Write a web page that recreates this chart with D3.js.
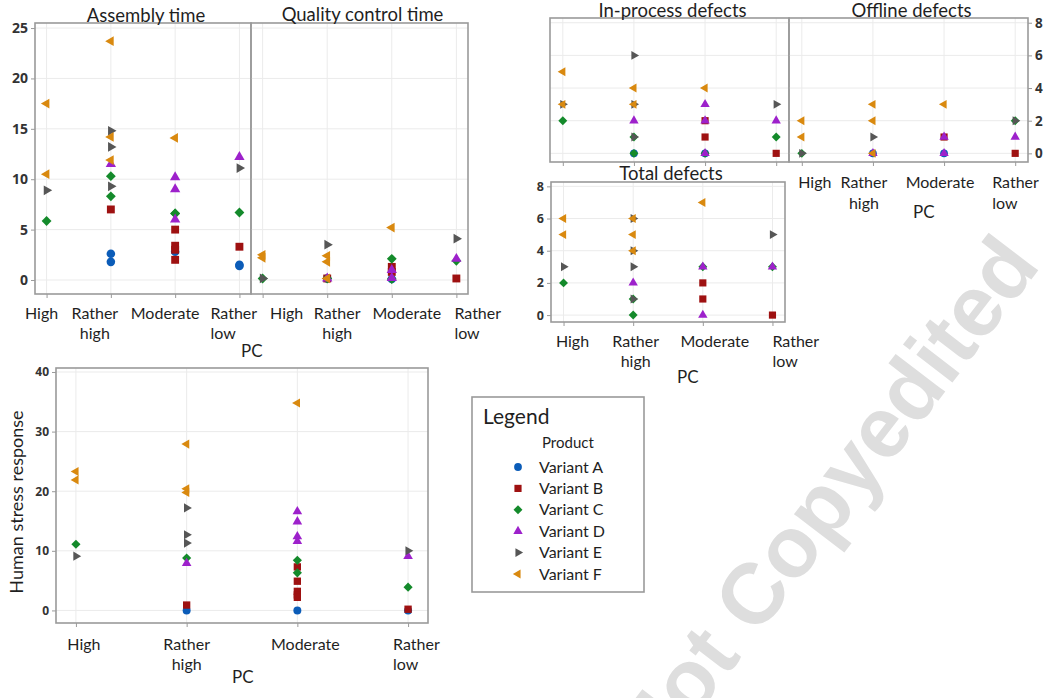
<!DOCTYPE html>
<html>
<head>
<meta charset="utf-8">
<script src="https://cdn.jsdelivr.net/npm/d3@7"></script>
<style>
  html, body { margin: 0; padding: 0; background: #ffffff; }
  svg { display: block; }
</style>
</head>
<body>
<svg id="chart" width="1045" height="698"></svg>
<script>
// ---- categories and series ----
const pcLevels = ["High", "Rather high", "Moderate", "Rather low"];
const variantKeys = ["A", "B", "C", "D", "E", "F"];
const variantLabels = ["Variant A", "Variant B", "Variant C", "Variant D", "Variant E", "Variant F"];
const variantColors = ["#0b5cb8", "#9e1111", "#148a2b", "#9d21cb", "#565656", "#d9890f"];

// tick values
const timeTicks = [0, 5, 10, 15, 20, 25];
const defectTicks = [0, 2, 4, 6, 8];
const stressTicks = [0, 10, 20, 30, 40];

// observations: [PC level, variant, value]
const assemblyTime = [
  ["High", "F", 17.5], ["High", "F", 10.5], ["High", "E", 8.9], ["High", "C", 5.85],
  ["Rather high", "F", 23.7], ["Rather high", "F", 14.2], ["Rather high", "F", 11.9],
  ["Rather high", "E", 14.8], ["Rather high", "E", 13.2], ["Rather high", "E", 9.3],
  ["Rather high", "D", 11.5], ["Rather high", "C", 10.3], ["Rather high", "C", 8.3],
  ["Rather high", "B", 7.0], ["Rather high", "A", 2.6], ["Rather high", "A", 1.8],
  ["Moderate", "F", 14.1], ["Moderate", "D", 10.2], ["Moderate", "D", 9.0], ["Moderate", "D", 6.0],
  ["Moderate", "C", 6.6], ["Moderate", "C", 6.6], ["Moderate", "B", 5.0], ["Moderate", "B", 3.4],
  ["Moderate", "B", 3.0], ["Moderate", "B", 2.0], ["Moderate", "A", 2.8],
  ["Rather low", "D", 12.2], ["Rather low", "E", 11.1], ["Rather low", "C", 6.7],
  ["Rather low", "B", 3.3], ["Rather low", "A", 1.5], ["Rather low", "A", 1.4]
];

const qualityControlTime = [
  ["High", "F", 2.5], ["High", "F", 2.2], ["High", "C", 0.15], ["High", "E", 0.15],
  ["Rather high", "E", 3.5], ["Rather high", "F", 2.4], ["Rather high", "F", 1.8],
  ["Rather high", "A", 0.15], ["Rather high", "B", 0.15], ["Rather high", "C", 0.15],
  ["Rather high", "D", 0.15], ["Rather high", "F", 0.15],
  ["Moderate", "F", 5.2], ["Moderate", "C", 2.1], ["Moderate", "B", 1.3], ["Moderate", "B", 0.8],
  ["Moderate", "D", 1.0], ["Moderate", "A", 0.1], ["Moderate", "C", 0.1], ["Moderate", "D", 0.2],
  ["Rather low", "E", 4.1], ["Rather low", "D", 2.1], ["Rather low", "C", 1.9], ["Rather low", "B", 0.15]
];

const inProcessDefects = [
  ["High", "F", 5], ["High", "F", 3], ["High", "E", 3], ["High", "C", 2],
  ["Rather high", "E", 6], ["Rather high", "F", 4], ["Rather high", "F", 3], ["Rather high", "E", 3],
  ["Rather high", "D", 2], ["Rather high", "C", 1], ["Rather high", "E", 1],
  ["Rather high", "A", 0], ["Rather high", "C", 0],
  ["Moderate", "F", 4], ["Moderate", "D", 3], ["Moderate", "B", 2], ["Moderate", "D", 2],
  ["Moderate", "B", 1], ["Moderate", "A", 0], ["Moderate", "C", 0], ["Moderate", "D", 0],
  ["Rather low", "E", 3], ["Rather low", "D", 2], ["Rather low", "C", 1], ["Rather low", "B", 0]
];

const offlineDefects = [
  ["High", "F", 2], ["High", "F", 1], ["High", "C", 0], ["High", "E", 0],
  ["Rather high", "F", 3], ["Rather high", "F", 2], ["Rather high", "E", 1],
  ["Rather high", "A", 0], ["Rather high", "D", 0], ["Rather high", "F", 0],
  ["Moderate", "F", 3], ["Moderate", "B", 1], ["Moderate", "D", 1], ["Moderate", "A", 0], ["Moderate", "D", 0],
  ["Rather low", "C", 2], ["Rather low", "E", 2], ["Rather low", "D", 1], ["Rather low", "B", 0]
];

const totalDefects = [
  ["High", "F", 6], ["High", "F", 5], ["High", "E", 3], ["High", "C", 2],
  ["Rather high", "E", 6], ["Rather high", "F", 6], ["Rather high", "F", 5], ["Rather high", "E", 4],
  ["Rather high", "F", 4], ["Rather high", "E", 3], ["Rather high", "D", 2], ["Rather high", "C", 1],
  ["Rather high", "E", 1], ["Rather high", "C", 0],
  ["Moderate", "F", 7], ["Moderate", "C", 3], ["Moderate", "D", 3], ["Moderate", "B", 2],
  ["Moderate", "B", 1], ["Moderate", "D", 0],
  ["Rather low", "E", 5], ["Rather low", "C", 3], ["Rather low", "D", 3], ["Rather low", "B", 0]
];

const stressResponse = [
  ["High", "F", 23.3], ["High", "F", 21.9], ["High", "C", 11.1], ["High", "E", 9.1],
  ["Rather high", "F", 27.9], ["Rather high", "F", 20.4], ["Rather high", "F", 19.8],
  ["Rather high", "E", 17.2], ["Rather high", "E", 12.7], ["Rather high", "E", 11.3],
  ["Rather high", "C", 8.8], ["Rather high", "D", 7.9], ["Rather high", "B", 0.9], ["Rather high", "A", 0],
  ["Moderate", "F", 34.8], ["Moderate", "D", 16.6], ["Moderate", "D", 14.9], ["Moderate", "D", 12.4],
  ["Moderate", "D", 11.6], ["Moderate", "C", 8.4], ["Moderate", "C", 6.3], ["Moderate", "B", 7.3],
  ["Moderate", "B", 4.9], ["Moderate", "B", 3.2], ["Moderate", "B", 2.6], ["Moderate", "B", 2.2],
  ["Moderate", "A", 0],
  ["Rather low", "E", 10.0], ["Rather low", "D", 9.1], ["Rather low", "C", 3.9],
  ["Rather low", "A", 0], ["Rather low", "B", 0.2]
];

// ---- drawing ----
const svg = d3.select("#chart");
const labelFont = "Lato, 'Open Sans', sans-serif";
const tickFont = "'Open Sans', 'DejaVu Sans', sans-serif";
const frameColor = "#9a9a9a";
const gridColor = "#ebebeb";

// marker shapes per variant: circle, square, diamond, triangle up / right / left
const markerShape = {
  A: { type: d3.symbolCircle, area: 50, rot: 0 },
  B: { type: d3.symbolSquare, area: 54, rot: 0 },
  C: { type: d3.symbolSquare, area: 42, rot: 45 },
  D: { type: d3.symbolTriangle, area: 40, rot: 0 },
  E: { type: d3.symbolTriangle, area: 36, rot: 90 },
  F: { type: d3.symbolTriangle, area: 36, rot: -90 }
};
const colorOf = d3.scaleOrdinal().domain(variantKeys).range(variantColors);

function marker(key, scale) {
  const m = markerShape[key];
  return d3.symbol().type(m.type).size(m.area * scale)();
}

// watermark
svg.append("text")
  .attr("transform", "translate(655,770) rotate(-52.5)")
  .attr("font-family", "'Liberation Sans', Arial, sans-serif")
  .attr("font-weight", "bold")
  .attr("font-size", 86)
  .attr("fill", "#dedede")
  .text("Not Copyedited");

function drawPanel(o) {
  const g = svg.append("g");
  const x = d3.scalePoint().domain(pcLevels).range([o.left, o.right]).padding(0.18);
  const y = d3.scaleLinear().domain(o.yDomain).range([o.bottom, o.top]);

  // grid
  g.append("g").selectAll("line").data(o.ticks).join("line")
    .attr("x1", o.left).attr("x2", o.right)
    .attr("y1", d => y(d)).attr("y2", d => y(d))
    .attr("stroke", gridColor).attr("stroke-width", 1);
  g.append("g").selectAll("line").data(pcLevels).join("line")
    .attr("x1", d => x(d)).attr("x2", d => x(d))
    .attr("y1", o.top).attr("y2", o.bottom)
    .attr("stroke", gridColor).attr("stroke-width", 1);

  // points, drawn in variant order
  const rows = o.data.slice().sort((a, b) => variantKeys.indexOf(a[1]) - variantKeys.indexOf(b[1]));
  g.append("g").selectAll("path").data(rows).join("path")
    .attr("d", d => marker(d[1], o.markerScale))
    .attr("transform", d => `translate(${x(d[0])},${y(d[2])}) rotate(${markerShape[d[1]].rot})`)
    .attr("fill", d => colorOf(d[1]));

  // frame
  g.append("rect")
    .attr("x", o.left).attr("y", o.top)
    .attr("width", o.right - o.left).attr("height", o.bottom - o.top)
    .attr("fill", "none").attr("stroke", frameColor).attr("stroke-width", 1.6);

  // y axis
  if (o.yAxis) {
    const ax = (o.yAxis === "right" ? d3.axisRight(y) : d3.axisLeft(y))
      .tickValues(o.ticks).tickSize(4).tickPadding(3);
    const ag = g.append("g")
      .attr("transform", `translate(${o.yAxis === "right" ? o.right : o.left},0)`)
      .call(ax);
    ag.select(".domain").remove();
    ag.selectAll(".tick line").attr("stroke", frameColor);
    ag.selectAll(".tick text")
      .attr("font-family", tickFont).attr("font-weight", 700)
      .attr("font-size", o.tickSize).attr("fill", "#333");
  }

  // x ticks
  const xg = g.append("g").attr("transform", `translate(0,${o.bottom})`)
    .call(d3.axisBottom(x).tickSize(4).tickFormat(""));
  xg.select(".domain").remove();
  xg.selectAll(".tick line").attr("stroke", frameColor);

  // category labels
  if (o.labelDx) {
    pcLevels.forEach((lvl, i) => {
      const words = lvl.split(" ");
      const leftAligned = lvl === "Rather low";
      const t = g.append("text")
        .attr("font-family", labelFont).attr("font-size", 16).attr("fill", "#1f1f1f")
        .attr("text-anchor", leftAligned ? "start" : "middle");
      words.forEach((w, j) => {
        t.append("tspan").attr("x", x(lvl) + o.labelDx[i]).attr("y", o.labelY[j]).text(w);
      });
    });
  }

  // title
  if (o.title) {
    g.append("text")
      .attr("x", (o.left + o.right) / 2 + 3).attr("y", o.titleY)
      .attr("text-anchor", "middle")
      .attr("font-family", labelFont).attr("font-size", 18.5).attr("fill", "#1f1f1f")
      .text(o.title);
  }
  return { x, y };
}

// Assembly time / Quality control time
drawPanel({ left: 35, right: 251, top: 23, bottom: 294, yDomain: [-1.39, 25.5], ticks: timeTicks,
  data: assemblyTime, yAxis: "left", tickSize: 14, markerScale: 1.15,
  labelDx: [-5, -16, -10, -29], labelY: [319, 339], title: "Assembly time", titleY: 22 });
drawPanel({ left: 251, right: 468, top: 23, bottom: 294, yDomain: [-1.39, 25.5], ticks: timeTicks,
  data: qualityControlTime, yAxis: null, markerScale: 1.15,
  labelDx: [24, 10, 15, -2], labelY: [319, 339], title: "Quality control time", titleY: 21 });

// In-process / Offline defects
drawPanel({ left: 550, right: 789, top: 18, bottom: 162, yDomain: [-0.53, 8.29], ticks: defectTicks,
  data: inProcessDefects, yAxis: null, markerScale: 0.95,
  title: "In-process defects", titleY: 16.5 });
drawPanel({ left: 789, right: 1028, top: 18, bottom: 162, yDomain: [-0.53, 8.29], ticks: defectTicks,
  data: offlineDefects, yAxis: "right", tickSize: 13.5, markerScale: 0.95,
  labelDx: [13, -9, -4, -23], labelY: [188, 209], title: "Offline defects", titleY: 16.5 });

// Total defects
drawPanel({ left: 551, right: 785, top: 182, bottom: 322, yDomain: [-0.43, 8.27], ticks: defectTicks,
  data: totalDefects, yAxis: "left", tickSize: 12.5, markerScale: 0.95,
  labelDx: [9, 2.5, 12, 0], labelY: [347, 367], title: "Total defects", titleY: 180 });

// Human stress response
drawPanel({ left: 56, right: 428, top: 368, bottom: 623, yDomain: [-2.11, 40.67], ticks: stressTicks,
  data: stressResponse, yAxis: "left", tickSize: 12, markerScale: 1.0,
  labelDx: [8, 0, 8, -15], labelY: [650, 670] });

// axis titles
const axisTitles = [
  { text: "PC", x: 241, y: 357 },
  { text: "PC", x: 913, y: 218 },
  { text: "PC", x: 677, y: 383 },
  { text: "PC", x: 232, y: 683 }
];
svg.append("g").selectAll("text").data(axisTitles).join("text")
  .attr("x", d => d.x).attr("y", d => d.y)
  .attr("font-family", labelFont).attr("font-size", 17).attr("fill", "#1f1f1f")
  .text(d => d.text);
svg.append("text")
  .attr("transform", "translate(23,502) rotate(-90)")
  .attr("text-anchor", "middle")
  .attr("font-family", labelFont).attr("font-size", 18).attr("fill", "#1f1f1f")
  .text("Human stress response");

// legend
const lg = svg.append("g");
lg.append("rect").attr("x", 472).attr("y", 397).attr("width", 172).attr("height", 195)
  .attr("fill", "#fff").attr("stroke", frameColor).attr("stroke-width", 1.6);
lg.append("text").attr("x", 483).attr("y", 424)
  .attr("font-family", labelFont).attr("font-size", 21).attr("fill", "#1f1f1f").text("Legend");
lg.append("text").attr("x", 542).attr("y", 448)
  .attr("font-family", labelFont).attr("font-size", 15).attr("fill", "#1f1f1f").text("Product");
const rowY = d3.scalePoint().domain(variantKeys).range([467, 574]);
const items = lg.selectAll("g.item").data(variantKeys).join("g").attr("class", "item")
  .attr("transform", k => `translate(0,${rowY(k)})`);
items.append("path")
  .attr("d", k => marker(k, 0.95))
  .attr("transform", k => `translate(518,0) rotate(${markerShape[k].rot})`)
  .attr("fill", k => colorOf(k));
items.append("text").attr("x", 539).attr("y", 5.5)
  .attr("font-family", labelFont).attr("font-size", 16).attr("fill", "#1f1f1f")
  .text((k, i) => variantLabels[i]);
</script>
</body>
</html>
